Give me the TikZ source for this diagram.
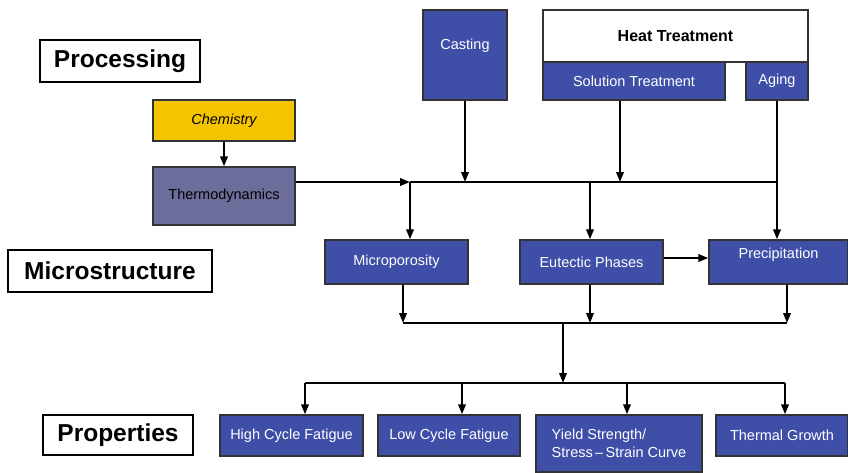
\documentclass[tikz,border=0pt]{standalone}
\usepackage{fontspec}
\setmainfont{Liberation Sans}
\usetikzlibrary{arrows.meta,positioning}
\definecolor{boxblue}{HTML}{3F4FA8}
\definecolor{chemyellow}{HTML}{F5C400}
\definecolor{thermopurple}{HTML}{6D6D9C}
\definecolor{edgegray}{HTML}{333333}

\begin{document}
\begin{tikzpicture}[
            x=1pt, y=-1pt,
            box/.style={rectangle, draw=edgegray, line width=1.4pt, inner sep=0pt, font=\fontsize{14.5}{18}\selectfont},
            bluebox/.style={box, fill=boxblue, text=white},
            boxtext/.style={text=white, font=\fontsize{14.5}{18}\selectfont},
            stagebox/.style={rectangle, draw=black, line width=2.2pt, fill=white, inner sep=0pt, font=\fontsize{24.5}{28}\selectfont\bfseries},
            arrow/.style={-{Triangle[length=10pt,width=7.5pt]}, line width=2pt},
            bus/.style={line width=1.6pt}
        ]

        \fill[white] (0,0) rectangle (848,472);
        \useasboundingbox (0,0) rectangle (848,472);

        % Stage labels
        \node[stagebox, minimum width=160, minimum height=42] (processing) at (120,61) {Processing};
        \node[stagebox, minimum width=204, minimum height=42] (microstructure) at (110,271) {Microstructure};
        \node[stagebox, minimum width=150, minimum height=40] (properties) at (118,435) {Properties};

        % Processing layer
        \node[box, fill=chemyellow, minimum width=142, minimum height=41, font=\fontsize{14.5}{18}\selectfont\itshape] (chemistry) at (224,120.5) {Chemistry};
        \node[box, fill=thermopurple, minimum width=142, minimum height=58] (thermo) at (224,196) {Thermodynamics};
        \node[bluebox, minimum width=84, minimum height=90, label={[boxtext, yshift=9pt]center:Casting}] (casting) at (465,55) {};
        \node[box, fill=white, minimum width=265, minimum height=52, font=\fontsize{16}{19}\selectfont\bfseries] (heat) at (675.5,36) {Heat Treatment};
        \node[bluebox, minimum width=182, minimum height=38] (solution) at (634,81) {Solution Treatment};
        \node[bluebox, minimum width=62, minimum height=38] (aging) at (777,81) {Aging};

        % Microstructure layer
        \node[bluebox, minimum width=143, minimum height=44] (micro) at (396.5,262) {Microporosity};
        \node[bluebox, minimum width=143, minimum height=44] (eutectic) at (591.5,262) {Eutectic Phases};
        \node[bluebox, minimum width=139, minimum height=44, label={[boxtext, yshift=7pt]center:Precipitation}] (precip) at (778.5,262) {};

        % Properties layer
        \node[bluebox, minimum width=143, minimum height=41] (hcf) at (291.5,435.5) {High Cycle Fatigue};
        \node[bluebox, minimum width=142, minimum height=41] (lcf) at (449,435.5) {Low Cycle Fatigue};
        \node[bluebox, minimum width=166, minimum height=57, align=left] (yield) at (619,443.5) {Yield Strength/\\Stress\,--\,Strain Curve};
        \node[bluebox, minimum width=132, minimum height=41] (thermal) at (782,435.5) {Thermal Growth};

        % Junctions
        \coordinate (jmic) at (410,182);
        \coordinate (jeut) at (590,182);
        \coordinate (jsol) at (620,182);
        \coordinate (jage) at (777,182);
        \coordinate (lmic) at (403,323);
        \coordinate (leut) at (590,323);
        \coordinate (lpre) at (787,323);
        \coordinate (lmid) at (563,323);
        \coordinate (pmid) at (563,383);
        \coordinate (phcf) at (305,383);
        \coordinate (plcf) at (462,383);
        \coordinate (pyld) at (627,383);
        \coordinate (pthg) at (785,383);

        % Arrows into microstructure
        \draw[arrow] (chemistry) -- (thermo);
        \draw[arrow] (thermo.east |- jmic) -- (jmic);
        \draw[bus] (jmic) -- (jage);
        \draw[arrow] (casting.south) -- (casting.south |- jmic);
        \draw[arrow] (jsol |- solution.south) -- (jsol);
        \draw[arrow] (aging.south) -- (aging.south |- precip.north);
        \draw[arrow] (jmic) -- (jmic |- micro.north);
        \draw[arrow] (jeut) -- (jeut |- eutectic.north);
        \draw[arrow] ([yshift=4pt]eutectic.east) -- ([yshift=4pt]eutectic.east -| precip.west);

        % Arrows into properties
        \draw[arrow] (lmic |- micro.south) -- (lmic);
        \draw[arrow] (leut |- eutectic.south) -- (leut);
        \draw[arrow] (lpre |- precip.south) -- (lpre);
        \draw[bus] (lmic) -- (lpre);
        \draw[arrow] (lmid) -- (pmid);
        \draw[bus] (phcf) -- (pthg);
        \draw[arrow] (phcf) -- (phcf |- hcf.north);
        \draw[arrow] (plcf) -- (plcf |- lcf.north);
        \draw[arrow] (pyld) -- (pyld |- yield.north);
        \draw[arrow] (pthg) -- (pthg |- thermal.north);

        \end{tikzpicture}
\end{document}
